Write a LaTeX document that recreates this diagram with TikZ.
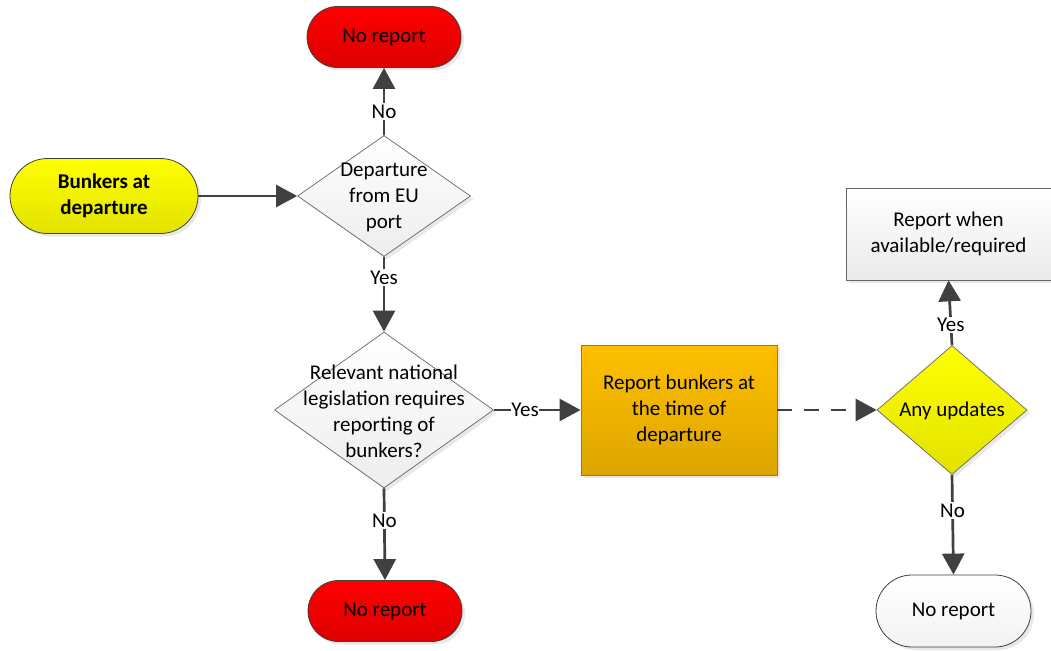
\documentclass[tikz,border=0pt]{standalone}
\usepackage{fontspec}
\setmainfont{Carlito}
\usetikzlibrary{shapes.geometric,shapes.misc,arrows.meta,shadows}
\definecolor{lineg}{HTML}{404040}
\definecolor{redtop}{HTML}{FF0000}
\definecolor{redbot}{HTML}{DD0000}
\definecolor{yeltop}{HTML}{FFFF00}
\definecolor{yelbot}{HTML}{E2E200}
\definecolor{ortop}{HTML}{FFC000}
\definecolor{orbot}{HTML}{DDA500}
\definecolor{orline}{HTML}{9C7A1E}
\begin{document}
\begin{tikzpicture}[x=1pt,y=-1pt,
  font=\fontsize{21}{26}\selectfont,
  shad/.style={drop shadow={opacity=0.18,shadow xshift=3pt,shadow yshift=-3pt}},
  term/.style={rounded rectangle, draw=lineg, line width=0.8pt, inner sep=0pt, shad},
  redterm/.style={term, top color=redtop, bottom color=redbot, minimum width=154pt, minimum height=61pt},
  dec/.style={diamond, draw=lineg!80, line width=0.7pt, inner sep=0pt, shad},
  graydec/.style={dec, top color=white, bottom color=black!7},
  conn/.style={draw=lineg, line width=2.7pt, -{Triangle[length=21pt,width=22pt]}},
  lab/.style={fill=white, inner sep=1.5pt, text=black}]
\useasboundingbox (0,0) rectangle (1051,650);

% nodes
\node[redterm] (top) at (384,37) {\raisebox{-2pt}{No report}};
\node[term, top color=yeltop, bottom color=yelbot, minimum width=188pt, minimum height=75pt,
      font=\fontsize{21}{26}\selectfont\bfseries, align=center] (start) at (104,196) {Bunkers at\\departure};
\node[graydec, minimum width=173pt, minimum height=121pt] (d1) at (384,196) {};
\node[align=center] (d1t) at (384,197) {Departure\\from EU\\port};
\node[graydec, minimum width=219pt, minimum height=156pt] (d2) at (384,410) {};
\node[align=center] (d2t) at (384,411) {Relevant national\\legislation requires\\reporting of\\bunkers?};
\node[redterm] (bot) at (385,611) {\raisebox{-2pt}{No report}};
\node[rectangle, draw=orline, line width=0.9pt, top color=ortop, bottom color=orbot,
      minimum width=196pt, minimum height=130pt, align=center, shad] (rep) at (679,410)
      {Report bunkers at\\the time of\\departure};
\node[dec, top color=yeltop, bottom color=yelbot, minimum width=150pt, minimum height=129pt] (d3) at (952,410) {};
\node (d3t) at (952,411) {Any updates};
\node[rectangle, draw=lineg!80, line width=0.7pt, top color=white, bottom color=black!8,
      minimum width=205pt, minimum height=92pt, align=center, shad] (avail) at (948.5,234)
      {Report when\\available/required};
\node[term, top color=white, bottom color=black!5, minimum width=155pt, minimum height=72pt] (wht) at (953.5,611) {\raisebox{-2pt}{No report}};

% connectors
\draw[conn] (start.east) -- (d1.west);
\draw[conn] (d1.north) -- node[lab, pos=0.35] (l1) {No} (top.south);
\draw[conn] (d1.south) -- node[lab, pos=0.28] (l2) {Yes} (d2.north);
\draw[conn] (d2.south) -- node[lab, pos=0.35] (l3) {No} (bot.north);
\draw[conn] (d2.east) -- node[lab, inner sep=0pt, pos=0.36] (l4) {Yes} (rep.west);
\draw[conn, dash pattern=on 15pt off 12pt] (rep.east) -- (d3.west);
\draw[conn] (d3.north) -- node[lab, pos=0.31] (l5) {Yes} (avail.south);
\draw[conn] (d3.south) -- node[lab, pos=0.36] (l6) {No} (wht.north);
\end{tikzpicture}
\end{document}
